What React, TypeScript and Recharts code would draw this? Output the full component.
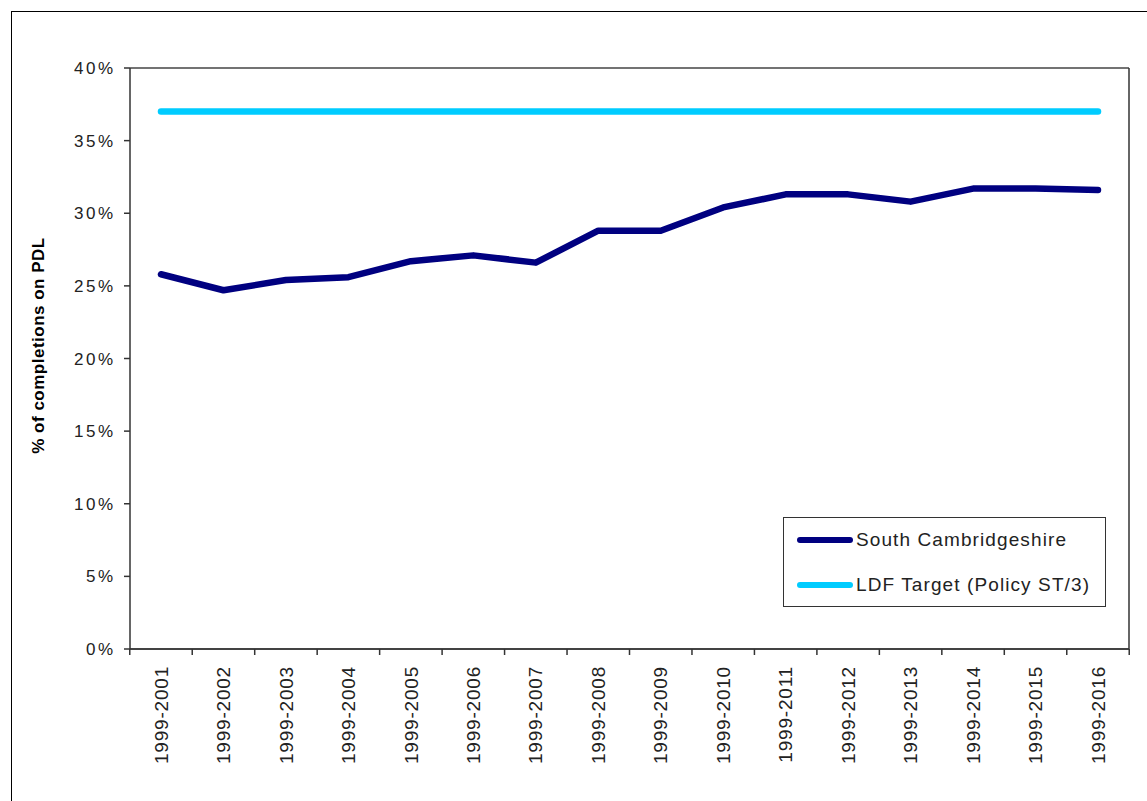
import React from 'react';
import { LineChart, Line, XAxis, YAxis, CartesianGrid, Legend } from 'recharts';

const categories = [
  '1999-2001', '1999-2002', '1999-2003', '1999-2004', '1999-2005', '1999-2006', '1999-2007', '1999-2008',
  '1999-2009', '1999-2010', '1999-2011', '1999-2012', '1999-2013', '1999-2014', '1999-2015', '1999-2016',
];
const southCambridgeshire = [25.8, 24.7, 25.4, 25.6, 26.7, 27.1, 26.6, 28.8, 28.8, 30.4, 31.3, 31.3, 30.8, 31.7, 31.7, 31.6];
const ldfTarget = [37, 37, 37, 37, 37, 37, 37, 37, 37, 37, 37, 37, 37, 37, 37, 37];
const yTicks = [0, 5, 10, 15, 20, 25, 30, 35, 40];

const seriesNames = ['South Cambridgeshire', 'LDF Target (Policy ST/3)'];
const seriesColors = ['#000080', '#00CCFF'];

const data = categories.map((c, i) => ({
  period: c,
  south: southCambridgeshire[i],
  target: ldfTarget[i],
}));

const FONT = '"Liberation Sans", Arial, sans-serif';
const W = 1147;
const H = 801;
const MARGIN = { top: 68, right: 17, bottom: 32, left: 20 };
const Y_W = 110;
const PAD = 31;
const PLOT_W = W - MARGIN.left - Y_W - MARGIN.right - 1;
const HALF_STEP = (PLOT_W - 2 * PAD) / (categories.length - 1) / 2;

const XTick = (props: any) => {
  const { x, y, payload, index } = props;
  const half = HALF_STEP;
  const last = index === categories.length - 1;
  const ty = y + 17;
  return (
    <g>
      <line x1={x - half} y1={y} x2={x - half} y2={y + 6} stroke="#333" strokeWidth={1.5} />
      {last && <line x1={x + half} y1={y} x2={x + half} y2={y + 6} stroke="#333" strokeWidth={1.5} />}
      <text
        x={x}
        y={ty}
        transform={`rotate(-90, ${x}, ${ty})`}
        textAnchor="end"
        dy="0.35em"
        fontSize={19}
        letterSpacing={0.8}
        fontFamily={FONT}
        fill="#222"
      >
        {payload.value}
      </text>
    </g>
  );
};

const renderLegend = () => (
  <div
    style={{
      width: 321,
      height: 88,
      border: '1.5px solid #333',
      background: '#fff',
      fontFamily: FONT,
      fontSize: 19,
      letterSpacing: 1.1,
      color: '#222',
      position: 'relative',
      boxSizing: 'content-box',
    }}
  >
    {seriesNames.map((name, i) => (
      <div
        key={name}
        style={{ position: 'absolute', left: 13, top: i === 0 ? 10 : 55, height: 24, display: 'flex', alignItems: 'center', whiteSpace: 'nowrap' }}
      >
        <span style={{ display: 'inline-block', width: 56, height: 6, borderRadius: 3, background: seriesColors[i], marginRight: 3 }} />
        <span>{name}</span>
      </div>
    ))}
  </div>
);

const YLabel = (props: any) => {
  const { viewBox } = props;
  const cx = viewBox.x + 18;
  const cy = viewBox.y + viewBox.height / 2 - 13;
  return (
    <text
      x={cx}
      y={cy}
      transform={`rotate(-90, ${cx}, ${cy})`}
      textAnchor="middle"
      dy="0.35em"
      fontSize={17}
      letterSpacing={0.5}
      fontWeight="bold"
      fontFamily={FONT}
      fill="#000"
    >
      % of completions  on PDL
    </text>
  );
};

export default function App() {
  return (
    <div style={{ position: 'absolute', left: 0, top: 0, width: W, height: H, overflow: 'hidden', background: '#fff' }}>
      <div
        style={{
          position: 'absolute',
          left: 11,
          top: 11,
          width: W,
          height: H,
          borderLeft: '1.5px solid #000',
          borderTop: '1.5px solid #000',
        }}
      />
      <div style={{ position: 'absolute', left: 0, top: 0 }}>
        <LineChart width={W} height={H} data={data} margin={MARGIN}>
          <CartesianGrid horizontal vertical={false} stroke="#444" strokeWidth={1.3} />
          <XAxis
            dataKey="period"
            padding={{ left: PAD, right: PAD }}
            height={120}
            tickSize={0}
            tickMargin={0}
            tickLine={false}
            axisLine={{ stroke: '#333', strokeWidth: 1.5 }}
            tick={<XTick />}
            interval={0}
          />
          <YAxis
            yAxisId="left"
            domain={[0, 40]}
            ticks={yTicks}
            width={Y_W}
            tickSize={6}
            tickMargin={8.5}
            tickFormatter={(v: number) => `${v}%`}
            tick={{ fontSize: 17, fontFamily: FONT, fill: '#222', letterSpacing: 2.5 }}
            tickLine={{ stroke: '#333', strokeWidth: 1.5 }}
            axisLine={{ stroke: '#333', strokeWidth: 1.5 }}
            label={<YLabel />}
            allowDataOverflow
          />
          <YAxis
            yAxisId="right"
            orientation="right"
            domain={[0, 40]}
            width={1}
            tick={false}
            tickLine={false}
            axisLine={{ stroke: '#333', strokeWidth: 1.5 }}
          />
          <Legend
            layout="vertical"
            align="center"
            verticalAlign="middle"
            content={renderLegend}
            wrapperStyle={{ left: 783, top: 517, width: 324, height: 91 }}
          />
          <Line
            yAxisId="left"
            type="linear"
            dataKey="target"
            name={seriesNames[1]}
            stroke={seriesColors[1]}
            strokeWidth={6.5}
            strokeLinecap="round"
            dot={false}
            activeDot={false}
            isAnimationActive={false}
          />
          <Line
            yAxisId="left"
            type="linear"
            dataKey="south"
            name={seriesNames[0]}
            stroke={seriesColors[0]}
            strokeWidth={6.5}
            strokeLinecap="round"
            strokeLinejoin="round"
            dot={false}
            activeDot={false}
            isAnimationActive={false}
          />
        </LineChart>
      </div>
    </div>
  );
}
